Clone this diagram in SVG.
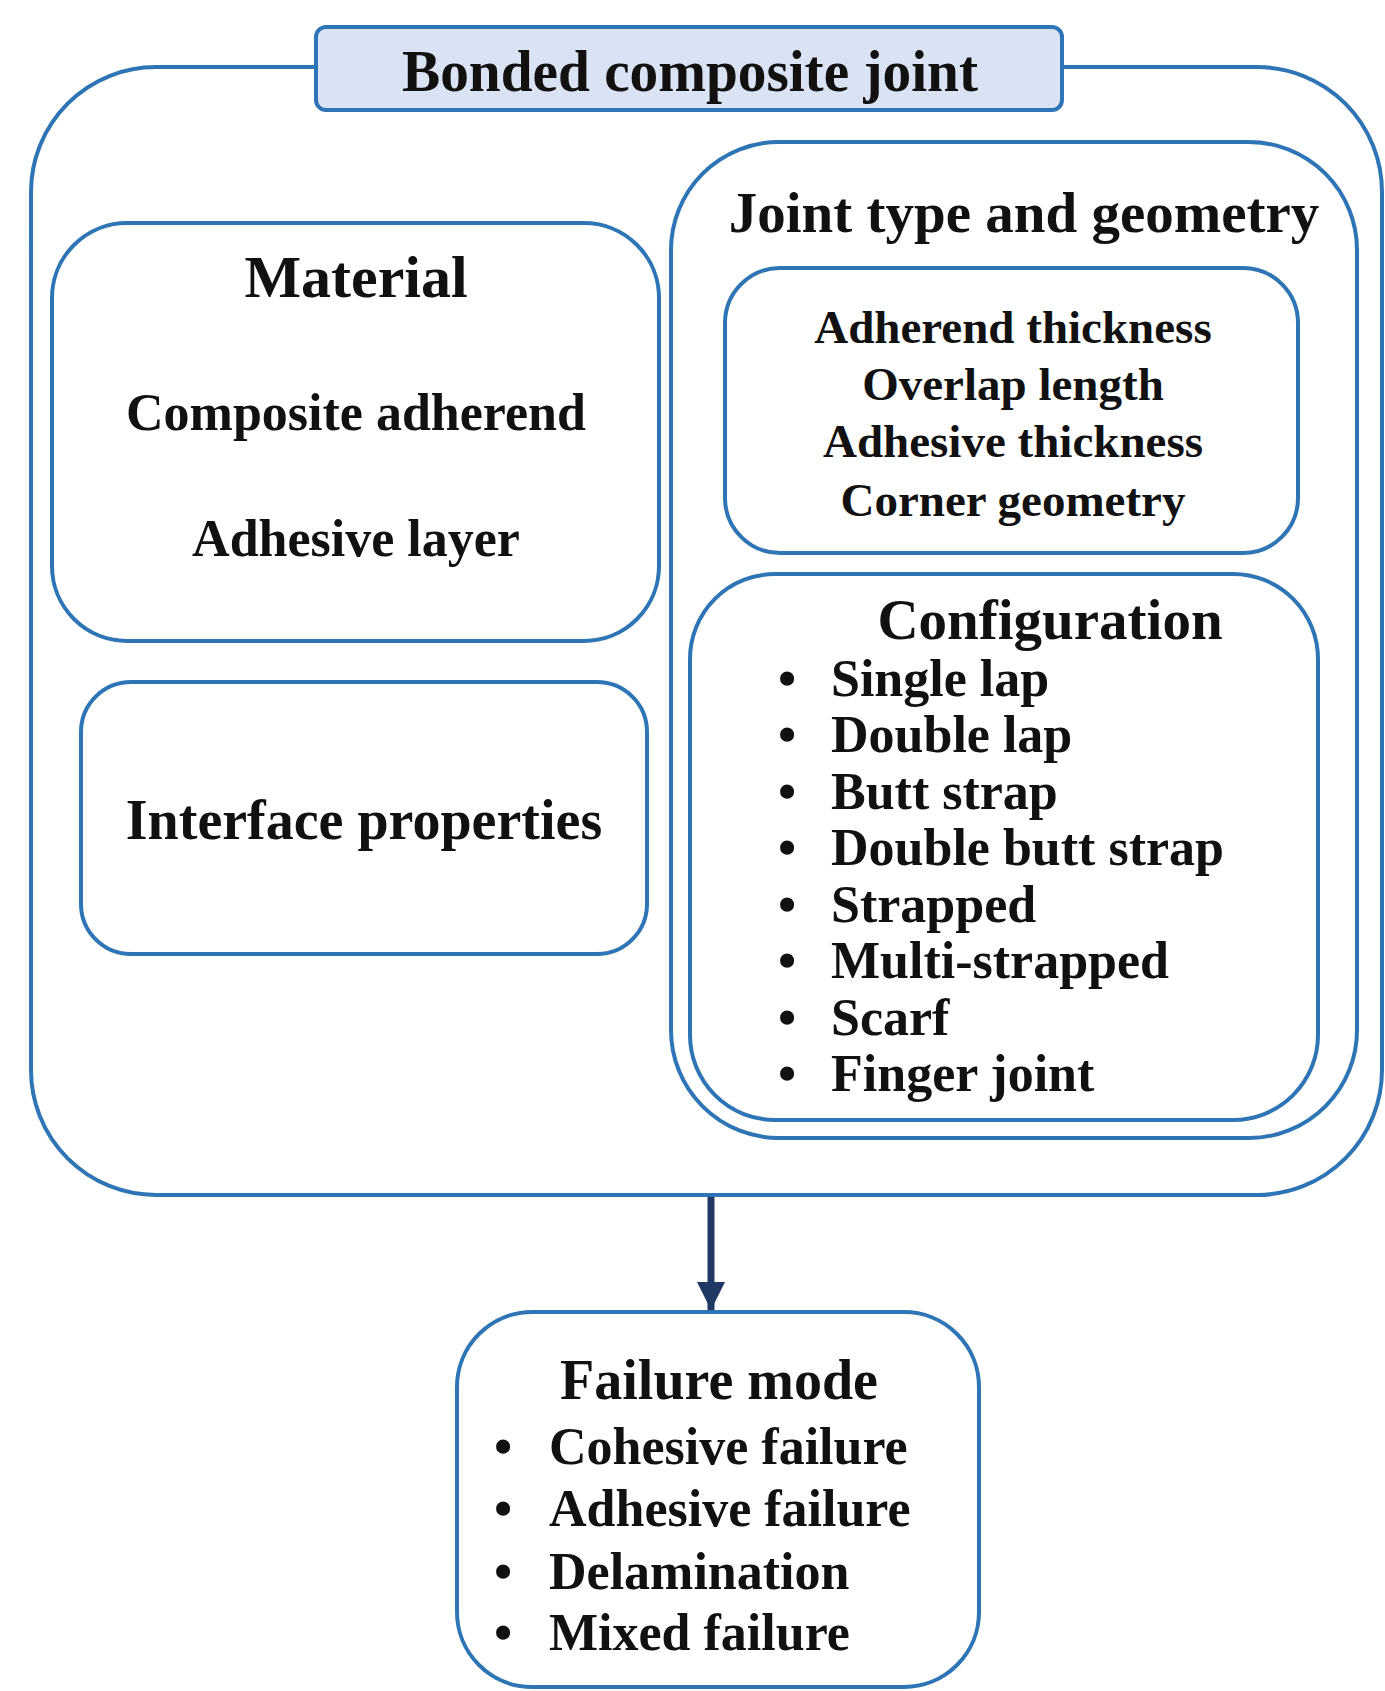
<svg xmlns="http://www.w3.org/2000/svg" width="1385" height="1691" viewBox="0 0 1385 1691">
<style>
.box{fill:#fff;stroke:#2e75b6;stroke-width:4}
.title{fill:#dae3f3;stroke:#2e75b6;stroke-width:4}
text{font-family:"Liberation Serif","Times New Roman",serif;font-weight:bold;fill:#111}
.c{text-anchor:middle}
.conn{stroke:#1f3864;stroke-width:7;fill:none}
</style>
<defs>
<marker id="ah" viewBox="0 0 10 10" refX="10" refY="5" markerWidth="4" markerHeight="4.4" markerUnits="strokeWidth" orient="auto">
<path d="M0,0 L10,5 L0,10 z" fill="#1f3864"/>
</marker>
</defs>
<rect width="1385" height="1691" fill="#fff"/>
<g id="bonded-composite-joint">
<rect class="box" x="31" y="67" width="1351" height="1128" rx="125"/>
<rect class="title" x="316" y="27" width="746" height="83" rx="10"/>
<text class="c" x="690" y="91" font-size="60" textLength="576" lengthAdjust="spacingAndGlyphs">Bonded composite joint</text>
</g>
<g id="material">
<rect class="box" x="52" y="223" width="607" height="418" rx="75"/>
<text class="c" x="356" y="297" font-size="60">Material</text>
<text class="c" x="356" y="430" font-size="52">Composite adherend</text>
<text class="c" x="356" y="556" font-size="52">Adhesive layer</text>
</g>
<g id="interface-properties">
<rect class="box" x="81" y="682" width="566" height="272" rx="50"/>
<text class="c" x="364" y="839" font-size="56">Interface properties</text>
</g>
<g id="joint-type-geometry">
<rect class="box" x="671" y="142" width="686" height="996" rx="108"/>
<text class="c" x="1024" y="232" font-size="57">Joint type and geometry</text>
</g>
<g id="geometry-parameters">
<rect class="box" x="725" y="268" width="573" height="285" rx="55"/>
<text class="c" x="1013" y="343" font-size="47">Adherend thickness</text>
<text class="c" x="1013" y="400" font-size="47">Overlap length</text>
<text class="c" x="1013" y="457" font-size="47">Adhesive thickness</text>
<text class="c" x="1013" y="516" font-size="47">Corner geometry</text>
</g>
<g id="configuration">
<rect class="box" x="690" y="574" width="628" height="546" rx="85"/>
<text class="c" x="1050" y="639" font-size="57">Configuration</text>
<g font-size="52">
<text x="778" y="696">•</text><text x="831" y="696">Single lap</text>
<text x="778" y="752">•</text><text x="831" y="752">Double lap</text>
<text x="778" y="809">•</text><text x="831" y="809">Butt strap</text>
<text x="778" y="865">•</text><text x="831" y="865">Double butt strap</text>
<text x="778" y="922">•</text><text x="831" y="922">Strapped</text>
<text x="778" y="978">•</text><text x="831" y="978">Multi-strapped</text>
<text x="778" y="1035">•</text><text x="831" y="1035">Scarf</text>
<text x="778" y="1091">•</text><text x="831" y="1091">Finger joint</text>
</g>
</g>
<g id="failure-mode">
<rect class="box" x="457" y="1312" width="522" height="375" rx="75"/>
<text class="c" x="719" y="1399" font-size="56">Failure mode</text>
<g font-size="52">
<text x="494" y="1464">•</text><text x="549" y="1464">Cohesive failure</text>
<text x="494" y="1526">•</text><text x="549" y="1526">Adhesive failure</text>
<text x="494" y="1589">•</text><text x="549" y="1589">Delamination</text>
<text x="494" y="1650">•</text><text x="549" y="1650">Mixed failure</text>
</g>
</g>
<g id="connectors">
<line class="conn" x1="711" y1="1197" x2="711" y2="1310" marker-end="url(#ah)"/>
</g>
</svg>
